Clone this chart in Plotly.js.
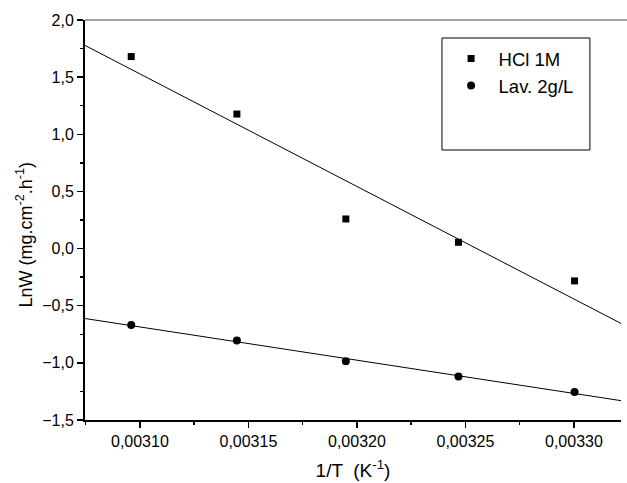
<!DOCTYPE html>
<html>
<head>
<meta charset="utf-8">
<script src="https://cdn.plot.ly/plotly-3.0.1.min.js"></script>
<style>html,body{margin:0;padding:0;background:#fff;}#chart{width:627px;height:483px;}</style>
</head>
<body>
<div id="chart"></div>
<script>
// 1/T values (K^-1)
var invT = [0.0030960, 0.0031447, 0.0031949, 0.0032468, 0.0033003];
var hclLabel = "HCl 1M";
var lavLabel = "Lav. 2g/L";
var lnW_HCl = [1.68, 1.177, 0.259, 0.055, -0.283];
var lnW_Lav = [-0.668, -0.805, -0.986, -1.12, -1.254];
var xRange = [0.0030747, 0.0033217];
var yRange = [-1.5, 2.0];
var xTitle = '1/T  (K<sup>-1</sup>)';
var yTitle = 'LnW (mg.cm<sup>-2</sup>.h<sup>-1</sup>)';

function linfit(x, y) {
  var n = x.length, mx = 0, my = 0;
  for (var i = 0; i < n; i++) { mx += x[i]; my += y[i]; }
  mx /= n; my /= n;
  var sxy = 0, sxx = 0;
  for (var i = 0; i < n; i++) { sxy += (x[i]-mx)*(y[i]-my); sxx += (x[i]-mx)*(x[i]-mx); }
  var b = sxy / sxx, a = my - b*mx;
  return function (v) { return a + b*v; };
}
var fH = linfit(invT, lnW_HCl), fL = linfit(invT, lnW_Lav);

var traces = [
  {x: invT, y: lnW_HCl, mode: 'markers', name: hclLabel,
   marker: {symbol: 'square', size: 7, color: '#000'}},
  {x: invT, y: lnW_Lav, mode: 'markers', name: lavLabel,
   marker: {symbol: 'circle', size: 8, color: '#000'}},
  {x: xRange, y: [fH(xRange[0]), fH(xRange[1])], mode: 'lines', showlegend: false,
   line: {color: '#000', width: 1}, hoverinfo: 'skip'},
  {x: xRange, y: [fL(xRange[0]), fL(xRange[1])], mode: 'lines', showlegend: false,
   line: {color: '#000', width: 1}, hoverinfo: 'skip'}
];

var font = 'Liberation Sans, Arial, sans-serif';
var layout = {
  width: 627, height: 483,
  margin: {l: 85, r: 6, t: 20, b: 63},
  paper_bgcolor: '#fff', plot_bgcolor: '#fff',
  separators: ', ',
  font: {family: font, color: '#000', size: 16},
  showlegend: true,
  legend: {x: 0.669, y: 0.95, xanchor: 'left', yanchor: 'top',
           bgcolor: 'rgba(0,0,0,0)', borderwidth: 0, itemwidth: 45,
           font: {family: font, size: 18.5, color: '#000'}},
  xaxis: {
    range: xRange, showgrid: false, zeroline: false,
    showline: true, linecolor: '#000', linewidth: 2, mirror: false,
    ticks: 'outside', ticklen: 6, tickwidth: 1.5, tickcolor: '#000',
    tick0: 0.0031, dtick: 0.00005, tickformat: '.5f',
    tickfont: {family: font, size: 16, color: '#000'},
    minor: {ticks: 'outside', ticklen: 3, tickwidth: 1.5, tickcolor: '#000', dtick: 0.000025, tick0: 0.0031, showgrid: false},
    title: {text: xTitle, font: {family: font, size: 19, color: '#000'}, standoff: 14}
  },
  yaxis: {
    range: yRange, showgrid: false, zeroline: false,
    showline: true, linecolor: '#000', linewidth: 2, mirror: false,
    ticks: 'outside', ticklen: 6, tickwidth: 1.5, tickcolor: '#000',
    tick0: 0, dtick: 0.5, tickformat: '.1f',
    tickfont: {family: font, size: 16, color: '#000'},
    minor: {ticks: 'outside', ticklen: 3, tickwidth: 1.5, tickcolor: '#000', dtick: 0.25, showgrid: false}
  },
  annotations: [
    {text: yTitle, xref: 'paper', yref: 'paper', x: -0.113, y: 0.4625,
     xanchor: 'center', yanchor: 'middle', textangle: -90, showarrow: false,
     font: {family: font, size: 18, color: '#000'}}
  ],
  shapes: [
    {type: 'line', xref: 'paper', yref: 'paper', x0: 0, x1: 1.02, y0: 1, y1: 1,
     line: {color: '#444', width: 1}},
    {type: 'rect', xref: 'paper', yref: 'paper', x0: 0.666, x1: 0.942, y0: 0.675, y1: 0.955,
     line: {color: '#000', width: 1}, fillcolor: 'rgba(0,0,0,0)'}
  ]
};

Plotly.newPlot('chart', traces, layout, {displayModeBar: false, staticPlot: true});
</script>
</body>
</html>
